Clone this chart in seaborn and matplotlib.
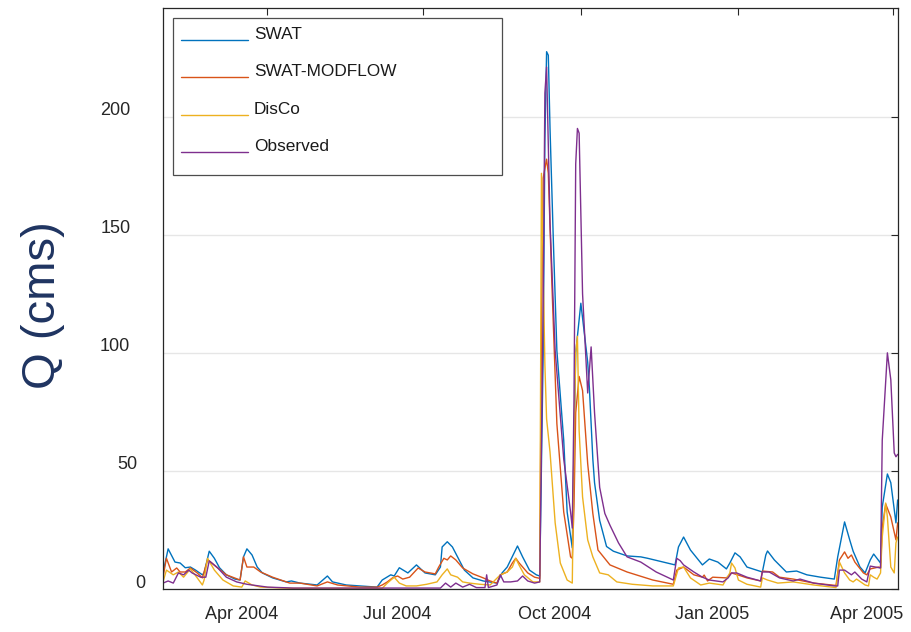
import numpy as np
import pandas as pd
import seaborn as sns
import matplotlib
matplotlib.use("Agg")
import matplotlib.pyplot as plt
import matplotlib.transforms as mtransforms
from matplotlib.lines import Line2D
from matplotlib.patches import Rectangle

# Days are counted from the first day of the record
START = pd.Timestamp("2004-01-31")
END_DAY = 429.2

series_names = ["SWAT", "SWAT-MODFLOW", "DisCo", "Observed"]
series_colors = ["#0072BD", "#D95319", "#EDB120", "#7E2F8E"]

swat_day = [0, 3, 7, 10, 13, 16, 19, 23, 24, 27, 30, 33, 37, 42, 45, 47, 49, 52, 55, 58,
            64, 72, 75, 80, 90, 96, 99, 107, 115, 125, 128, 133, 135, 138, 143, 148, 153,
            159, 162, 163, 166, 169, 172, 176, 181, 187, 195, 198, 201, 207, 210, 214, 218,
            220, 222, 223, 224, 225, 226, 228, 230, 234, 236, 239, 240, 241, 244, 248, 249,
            251, 252, 255, 259, 263, 271, 279, 283, 299, 301, 304, 308, 315, 319, 324, 329,
            331, 334, 337, 341, 350, 352, 353, 357, 364, 370, 376, 384, 392, 394, 398, 401,
            403, 407, 410, 413, 415, 419, 420, 423, 425, 428, 429]
swat_q = [6.8, 17, 11.4, 11, 9, 9.3, 8, 6, 6.8, 16, 13, 9, 6, 4.2, 3.8, 13.6, 17, 14.4, 9.3, 6.8,
          4.7, 3, 3.4, 2.5, 1.7, 5.5, 3, 1.7, 1.3, 0.8, 3.8, 6, 5.5, 9, 6.8, 10.2, 6.8,
          6, 9.3, 17.8, 20, 17.8, 13.6, 8, 4.7, 3.4, 2.5, 6.8, 9.3, 18.2, 13.6, 8, 6,
          5.5, 100, 190, 227.5, 226, 195, 146, 101, 63, 32.6, 17.4, 60, 100, 121, 96, 85,
          55, 45, 29, 18, 16, 14, 13.6, 13, 10.2, 17.8, 22, 16.5, 10.2, 12.7, 11.4, 8.5,
          11, 15.3, 13.6, 9.3, 7.2, 14.4, 16.1, 12.3, 7.2, 7.6, 6, 5, 4.2, 13.6, 28.4, 20.8,
          16, 9.3, 6.8, 12.3, 14.8, 11, 34.7, 48.7, 45, 28, 37.7]

modflow_day = [0, 2, 5, 8, 10, 13, 16, 20, 23, 26, 27, 32, 37, 45, 47, 49, 53, 57, 64, 74,
               80, 90, 96, 102, 115, 125, 128, 131, 134, 137, 140, 144, 149, 153, 159, 161,
               164, 166, 168, 171, 175, 181, 187, 191, 195, 197, 201, 204, 206, 208, 213, 217,
               220, 221, 222, 223, 224, 225, 227, 230, 234, 238, 239, 240, 241, 243, 245, 248,
               251, 254, 261, 271, 286, 298, 300, 304, 310, 315, 316, 318, 321, 329, 332, 336,
               341, 349, 350, 356, 360, 368, 380, 393, 395, 398, 400, 402, 404, 409, 411, 413,
               418, 419, 420, 422, 425, 428, 429]
modflow_q = [5, 13, 7.2, 8.9, 7.2, 7.2, 8.9, 6.8, 4.7, 12.3, 11.9, 8.9, 6, 3.8, 13.6, 9.3, 9.3, 7.2, 5, 2.5,
             2.5, 1.3, 3, 1.7, 0.8, 0.8, 1.7, 3, 4.7, 5.5, 4.2, 5, 8.9, 7.2, 6.4, 9.3,
             13, 12.3, 14, 12.3, 8.9, 6.4, 4.7, 3.4, 2.5, 6, 7.2, 11, 13, 11, 6.8, 5,
             4.5, 110, 174, 178, 182, 176, 131, 70, 32.6, 13.6, 13, 35, 74.6, 90, 84, 53,
             32, 16.5, 10.2, 7.2, 3.8, 2, 8, 9.3, 6, 5, 5.9, 3.4, 5, 4.7, 6.8, 5.9,
             4.7, 3.4, 7.6, 7.2, 5, 4.2, 2.5, 1.5, 12.3, 15.7, 13, 14.4, 11.4, 6.8, 6, 8.5,
             9.3, 8.9, 26, 36, 30.5, 20.8, 28]

disco_day = [0, 2, 6, 9, 12, 16, 20, 23, 24, 26, 30, 35, 41, 46, 48, 52, 57, 74, 109, 128,
             131, 135, 138, 142, 148, 154, 160, 163, 166, 168, 172, 175, 179, 185, 191, 197,
             201, 204, 206, 208, 211, 216, 220, 221, 223, 224, 226, 229, 232, 236, 239, 240,
             241, 242, 243, 245, 248, 251, 255, 260, 265, 274, 286, 298, 301, 304, 308, 314,
             319, 327, 331, 332, 334, 336, 341, 349, 350, 353, 359, 368, 380, 393, 395, 398,
             401, 403, 405, 410, 412, 413, 415, 417, 419, 420, 422, 423, 425, 427, 428, 429]
disco_q = [3, 8, 6, 7.2, 5, 8.5, 4.7, 1.7, 3.8, 13, 8, 3.8, 1.3, 0.8, 3.4, 1.7, 0.8, 0.3, 0.3, 0.3,
           2.5, 5, 2.5, 1.3, 1.3, 2, 3, 6, 8.5, 6, 5, 3, 2.5, 2, 1.7, 6,
           7.2, 9.3, 13, 10, 6, 3, 3, 176, 95, 72, 58, 28, 11, 3.8, 2.5, 60,
           100, 107, 67, 39, 20.8, 13.6, 6.8, 6, 3, 2, 1.3, 1.3, 8.9, 9.3, 4.7, 1.7,
           2.5, 1.7, 6.8, 11, 8.9, 3.8, 2, 0.8, 4.7, 3.8, 2.5, 3, 1.7, 0.6, 11.4, 6.8,
           3.8, 3, 4.2, 1.7, 1.3, 6, 5, 4.2, 6.8, 22, 36.4, 30.5, 9.3, 6.8, 19.5, 22]

observed_day = [0, 3, 6, 9, 12, 15, 17, 22, 25, 27, 32, 37, 43, 49, 61, 76, 109, 162, 165, 168,
                171, 175, 179, 183, 188, 189, 190, 195, 197, 199, 203, 207, 210, 213, 217, 220,
                222, 223, 224, 226, 229, 234, 238, 239, 240, 241, 242, 243, 245, 248, 250, 252,
                255, 258, 261, 266, 271, 279, 288, 298, 300, 302, 304, 310, 315, 319, 327, 330,
                332, 335, 341, 349, 350, 354, 360, 368, 372, 380, 392, 394, 395, 398, 402, 404,
                408, 411, 413, 416, 419, 420, 423, 425, 427, 428, 429]
observed_q = [2.5, 3.4, 2.5, 6.8, 6, 8, 6.8, 5, 5, 11.9, 8.9, 5, 3, 2, 0.8, 0.4, 0.4, 0.4, 2.5, 0.8,
              2.5, 0.8, 2, 0.6, 0.6, 6, 0.6, 1.7, 6, 3, 3, 3.4, 5.5, 3.4, 2.5, 3,
              120, 210, 221, 155, 101, 55, 32.6, 25.8, 80, 180, 195, 193, 125, 83, 102.5, 74.6,
              43, 32, 27, 19.5, 13.6, 11.4, 7.2, 3.8, 13, 12, 10.2, 7.2, 5, 3.8, 3, 4.7,
              6.8, 6.8, 5, 3.4, 7.2, 7.2, 4.7, 3.4, 4.2, 2.5, 1.3, 1.3, 8, 8, 6, 7.2,
              4.2, 3, 9.7, 9.3, 8.9, 63, 100, 88.6, 57.6, 56, 57]

y_ticks = [0, 50, 100, 150, 200]
x_tick_dates = ["2004-04-01", "2004-07-01", "2004-10-01", "2005-01-01", "2005-04-01"]
x_tick_labels = ["Apr 2004", "Jul 2004", "Oct 2004", "Jan 2005", "Apr 2005"]

frames = []
for name, d, q in zip(series_names,
                      [swat_day, modflow_day, disco_day, observed_day],
                      [swat_q, modflow_q, disco_q, observed_q]):
    frames.append(pd.DataFrame({
        "date": START + pd.to_timedelta(np.asarray(d, dtype=float), unit="D"),
        "Q": q,
        "model": name,
    }))
df = pd.concat(frames, ignore_index=True)

sns.set_theme(style="white")
plt.rcParams["font.family"] = ["Liberation Sans", "DejaVu Sans"]

W, H = 912, 632
fig = plt.figure(figsize=(W / 100, H / 100), dpi=100)
ax = fig.add_axes([163 / W, 1 - 589 / H, (898 - 163) / W, (589 - 8) / H])

sns.lineplot(data=df, x="date", y="Q", hue="model", hue_order=series_names,
             palette=dict(zip(series_names, series_colors)), estimator=None,
             sort=True, linewidth=1.0, legend=False, ax=ax)

ax.set_xlim(START, START + pd.Timedelta(days=END_DAY))
ax.set_ylim(0, 246)
ax.set_xlabel("")
ax.set_ylabel("")
ax.set_yticks(y_ticks)
ax.set_xticks(pd.to_datetime(x_tick_dates))
ax.set_xticklabels(x_tick_labels)

ax.grid(axis="y", color="#e6e6e6", linewidth=1.0)
ax.grid(axis="x", visible=False)
for sp in ax.spines.values():
    sp.set_visible(True)
    sp.set_color("#262626")
    sp.set_linewidth(0.9)

ax.tick_params(axis="both", direction="in", length=5, width=0.8, color="#262626",
               labelcolor="#262626", labelsize=13, top=True, right=True)
ax.tick_params(axis="x", pad=12.5)
ax.tick_params(axis="y", pad=23.5)

# shift tick labels relative to their ticks
for lbl in ax.get_xticklabels():
    lbl.set_transform(lbl.get_transform() +
                      mtransforms.ScaledTranslation(-26 / 100, 0, fig.dpi_scale_trans))
y_shift = {0: 15, 50: 7}
for val, lbl in zip(y_ticks, ax.get_yticklabels()):
    dx = y_shift.get(val, 0)
    lbl.set_transform(lbl.get_transform() +
                      mtransforms.ScaledTranslation(dx / 100, 8 / 100, fig.dpi_scale_trans))

fig.text(43 / W, 1 - 305 / H, "Q (cms)", rotation=90, fontsize=34, color="#1f3461",
         ha="center", va="center")

# legend box with line samples sitting on the text baseline
frame = Rectangle((173 / W, 1 - 175 / H), (502 - 173) / W, (175 - 18) / H,
                  transform=fig.transFigure, facecolor="white", edgecolor="#4d4d4d",
                  linewidth=0.9, zorder=5)
fig.add_artist(frame)
for i, (name, col) in enumerate(zip(series_names, series_colors)):
    yy = 40 + i * 37.3
    fig.add_artist(Line2D([181 / W, 248 / W], [1 - yy / H, 1 - yy / H],
                          transform=fig.transFigure, color=col, linewidth=1.0, zorder=6))
    fig.text(254 / W, 1 - (yy - 1) / H, name, fontsize=12.4, color="#1a1a1a",
             ha="left", va="baseline", zorder=6)

fig.savefig("out.png", dpi=100)
